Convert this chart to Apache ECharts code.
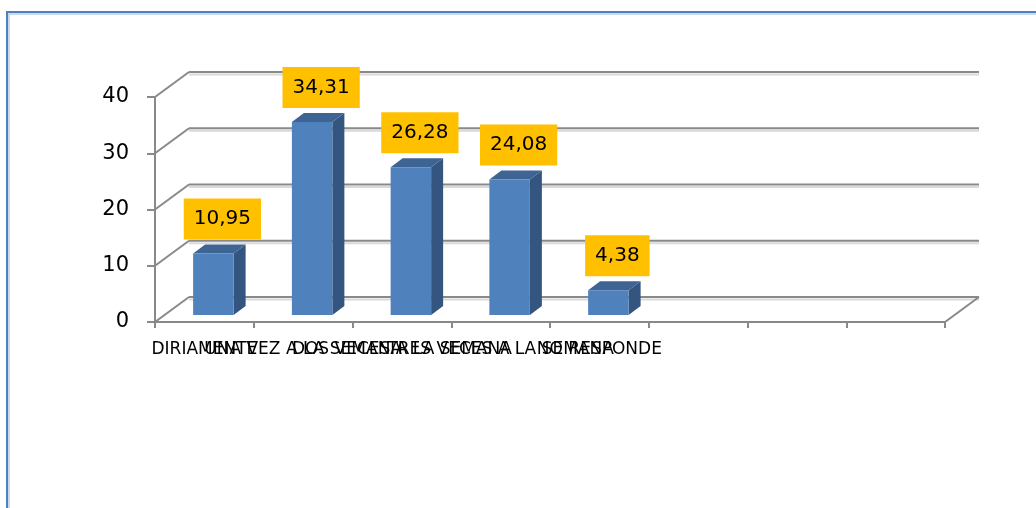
<!DOCTYPE html>
<html>
<head>
<meta charset="utf-8">
<script src="https://cdn.jsdelivr.net/npm/echarts@6/dist/echarts.min.js"></script>
<style>
html,body{margin:0;padding:0;background:#fff;}
#chart{width:1036px;height:508px;}
</style>
</head>
<body>
<div id="chart"></div>
<script>
// ---- data ----
const categories = ['DIRIAMENTE', 'UNA VEZ A LA SEMANA', 'DOS VECES A LA SEMANA', 'TRES VECES A LA SEMANA', 'NO RESPONDE', '', '', ''];
const values = [10.95, 34.31, 26.28, 24.08, 4.38];
const yTicks = [0, 10, 20, 30, 40];

// ---- 3D look (style only) ----
const WDX = 34, WDY = -25;     // wall depth offset
const BDX = 9, BDY = -7;       // bar plane offset from front
const TDX = 12, TDY = -9;      // bar depth
const BAR_FRAC = 0.41;
const FONT = 'DejaVu Sans';

const chart = echarts.init(document.getElementById('chart'));

function fmt(v){ return v.toFixed(2).replace('.', ','); }

const option = {
  animation: false,
  backgroundColor: '#fff',
  graphic: [{
    type: 'polyline', z: 0,
    shape: { points: [[7, 520], [7, 12], [1040, 12]] },
    style: { stroke: '#4F81BD', lineWidth: 2, fill: null }
  }, {
    type: 'polyline', z: 0,
    shape: { points: [[9, 520], [9, 14], [1040, 14]] },
    style: { stroke: '#B9CDE5', lineWidth: 1.5, fill: null }
  }],
  grid: { left: 155, right: 91, top: 97, bottom: 186 },
  xAxis: {
    type: 'category',
    data: categories,
    boundaryGap: true,
    axisLine: { show: true, lineStyle: { color: '#898989', width: 2 } },
    axisTick: { show: true, length: 6, lineStyle: { color: '#898989', width: 2 } },
    axisLabel: { interval: 0, hideOverlap: false, color: '#000', fontFamily: FONT, fontSize: 17, margin: 19 },
    splitLine: { show: false }
  },
  yAxis: {
    type: 'value', min: 0, max: 40, interval: 10,
    axisLine: { show: true, lineStyle: { color: '#898989', width: 2 } },
    axisTick: { show: true, length: 8, lineStyle: { color: '#898989', width: 2 } },
    axisLabel: { color: '#000', fontFamily: FONT, fontSize: 21, margin: 26 },
    splitLine: { show: false }
  },
  series: [{
    type: 'custom',
    z: 1,
    silent: true,
    data: yTicks.map(v => [0, v]),
    renderItem: function (params, api) {
      const v = api.value(1);
      const bw = api.size([1, 0])[0];
      const p0 = api.coord([0, v]);
      const p1 = api.coord([categories.length - 1, v]);
      const x0 = p0[0] - bw / 2, x1 = p1[0] + bw / 2, y = p0[1];
      const children = [];
      // light shadow under back line
      children.push({ type: 'line', shape: { x1: x0 + WDX, y1: y + WDY + 2.5, x2: x1 + WDX, y2: y + WDY + 2.5 }, style: { stroke: '#d9d9d9', lineWidth: 2 } });
      children.push({ type: 'line', shape: { x1: x0 + WDX, y1: y + WDY, x2: x1 + WDX, y2: y + WDY }, style: { stroke: '#898989', lineWidth: 2 } });
      children.push({ type: 'line', shape: { x1: x0, y1: y, x2: x0 + WDX, y2: y + WDY }, style: { stroke: '#898989', lineWidth: 2 } });
      if (v === 0) {
        children.push({ type: 'line', shape: { x1: x1, y1: y, x2: x1 + WDX, y2: y + WDY }, style: { stroke: '#898989', lineWidth: 2 } });
      }
      return { type: 'group', children: children };
    }
  }, {
    type: 'custom',
    z: 3,
    silent: true,
    data: values.map((v, i) => [i, v]),
    renderItem: function (params, api) {
      const i = api.value(0), v = api.value(1);
      const bw = api.size([1, 0])[0];
      const b = api.coord([i, 0]);
      const t = api.coord([i, v]);
      const cx = b[0] + BDX;
      const half = bw * BAR_FRAC / 2;
      const L = cx - half, R = cx + half;
      const yb = b[1] + BDY, yt = t[1] + BDY;
      return {
        type: 'group',
        children: [
          { type: 'polygon', shape: { points: [[R, yt], [R + TDX, yt + TDY], [R + TDX, yb + TDY], [R, yb]] }, style: { fill: '#34557F' } },
          { type: 'polygon', shape: { points: [[L, yt], [L + TDX, yt + TDY], [R + TDX, yt + TDY], [R, yt]] }, style: { fill: '#3E6494' } },
          { type: 'rect', shape: { x: L, y: yt, width: R - L, height: yb - yt }, style: { fill: '#4F81BD' } },
          { type: 'text', x: cx + 9, y: yt + TDY - 5,
            style: { text: fmt(v), fill: '#000', font: '20px "DejaVu Sans"', align: 'center', verticalAlign: 'bottom',
                     backgroundColor: '#FFC000', padding: [8, 10, 8, 10], lineHeight: 25 } }
        ]
      };
    }
  }]
};
chart.setOption(option);
</script>
</body>
</html>
